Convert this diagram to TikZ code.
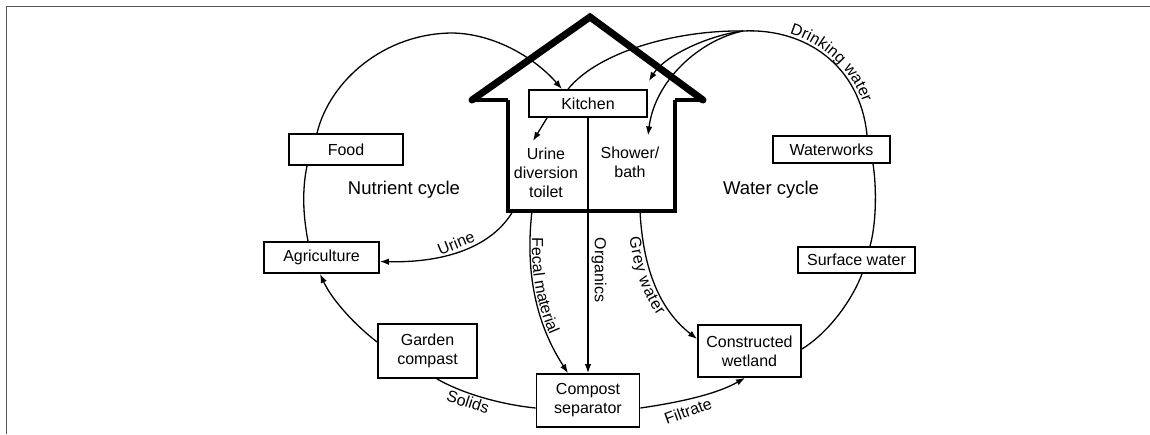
\documentclass[tikz,border=0pt]{standalone}
\usepackage{fontspec}
\setmainfont{Liberation Sans}
\usetikzlibrary{arrows.meta,decorations.text}

\begin{document}
\begin{tikzpicture}[x=1pt,y=-1pt,
  box/.style={draw,fill=white,line width=1.8pt,inner sep=0pt,align=center,
              font=\fontsize{16}{19}\selectfont},
  plain/.style={inner sep=0pt,align=center,font=\fontsize{16}{19}\selectfont},
  flow/.style={line width=1.3pt},
  arr/.style={flow,-{Latex[length=9pt,width=6.5pt]}},
  lbl/.style={font=\fontsize{16}{19}\selectfont,inner sep=0pt},
  cyc/.style={font=\fontsize{18.5}{22}\selectfont,inner sep=0pt},
  wall/.style={line width=4.6pt,line join=miter},
  eave/.style={line width=3.6pt},
  roof/.style={line width=7pt,line cap=round,line join=miter},
  along/.style={postaction={decorate,decoration={text along path,
      text={|\fontsize{16}{19}\selectfont|#1}}}}]

\useasboundingbox (0,0) rectangle (1150,434);

% page frame
\draw[line width=1pt,black!65] (6.5,434) -- (6.5,6.5) -- (1150,6.5);

% boxes
\node[box,minimum width=118pt,minimum height=27pt] (kitchen)    at (588,103.5) {Kitchen};
\node[box,minimum width=114pt,minimum height=31pt] (food)       at (346,149.5) {Food};
\node[box,minimum width=115pt,minimum height=31pt] (agri)       at (321.5,257.5) {Agriculture};
\node[box,minimum width=99pt, minimum height=54pt] (garden)     at (427.5,351) {Garden\\compast};
\node[box,minimum width=103pt,minimum height=53pt] (compost)    at (588,400.5) {Compost\\separator};
\node[box,minimum width=103pt,minimum height=52pt] (wetland)    at (749.5,351) {Constructed\\wetland};
\node[box,minimum width=117pt,minimum height=27pt] (waterworks) at (831.5,149.5) {Waterworks};
\node[box,minimum width=117pt,minimum height=26pt] (surface)    at (856.5,260) {Surface water};

% rooms
\node[plain] (toilet) at (546,173) {Urine\\diversion\\toilet};
\node[plain] (shower) at (630,162) {Shower/\\bath};

% cycle names
\node[cyc] (ncyc) at (404,190) {Nutrient cycle};
\node[cyc] (wcyc) at (771,190) {Water cycle};

% house
\coordinate (hu) at (513,211);
\coordinate (hf) at (532,211);
\coordinate (hg) at (640,211);
\coordinate (dw) at (743,31);

% nutrient cycle
\draw[arr] ([xshift=-29pt]food.north) .. controls (330,80) and (385,33) .. (453,33)
  .. controls (495,34) and (535,58) .. ([xshift=-26pt]kitchen.north);
\draw[flow] ([xshift=-39pt]food.south) .. controls (302,190) and (303,215) .. ([xshift=-13.5pt]agri.north);
\draw[arr] ([yshift=9pt]garden.west) .. controls (355,325) and (332,300) .. ([xshift=-1.5pt]agri.south);
\draw[flow] ([yshift=-7.5pt]compost.west) .. controls (505,405) and (465,395) .. ([xshift=9.5pt]garden.south);
\draw[arr] ([yshift=-7.5pt]compost.east) .. controls (675,403) and (715,395) .. ([xshift=-4.5pt]wetland.south);
\draw[arr] (hu) .. controls (492,247) and (445,263) .. ([yshift=-4pt]agri.east);
\draw[arr,along={Fecal material},
      decoration={text align={left,left indent=27pt},raise=2pt}]
  (hf) .. controls (524,280) and (540,330) .. ([xshift=-20pt]compost.north);
\draw[arr] (kitchen.south) -- (compost.north);
\draw[arr] ([xshift=-41pt]kitchen.south) -- ([xshift=-13pt,yshift=7pt]toilet.north);

% water cycle
\draw[arr,along={Grey water},
      decoration={text align={left,left indent=25pt},raise=-13pt}]
  (hg) .. controls (643,270) and (660,310) .. ([yshift=12pt]wetland.west);
\draw[flow] ([yshift=2pt]wetland.east) .. controls (825,335) and (850,305) .. ([xshift=5.5pt]surface.south);
\draw[flow] ([xshift=13.5pt]surface.north) .. controls (876,225) and (877,190) .. ([xshift=41.5pt]waterworks.south);
\draw[flow,along={Drinking water},
      decoration={text align={left,left indent=46pt},raise=3pt}]
  (dw) .. controls (805,28) and (860,65) .. ([xshift=35.5pt]waterworks.north);
\draw[flow] (dw) .. controls (680,30) and (600,50) .. ([xshift=-20pt]kitchen.north);
\draw[arr] (dw) .. controls (710,35) and (665,55) .. ([xshift=1pt,yshift=8pt]kitchen.north east);
\draw[arr] (dw) .. controls (700,40) and (655,80) .. ([xshift=18pt,yshift=11pt]shower.north);

% house outline
\draw[wall] (508,100) -- (508,211) -- (675,211) -- (675,100);
\draw[eave] (472,100) -- (508,100);
\draw[eave] (675,100) -- (703,100);
\draw[roof] (472,100) -- (590,17) -- (703,100);

% flow labels
\node[lbl,rotate=22]  (lurine) at (456,243) {Urine};
\node[lbl,rotate=-90] (lorg)   at (599,270) {Organics};
\node[lbl,rotate=-18] (lsol)   at (468,402) {Solids};
\node[lbl,rotate=20]  (lfil)   at (688,411) {Filtrate};
\end{tikzpicture}
\end{document}
